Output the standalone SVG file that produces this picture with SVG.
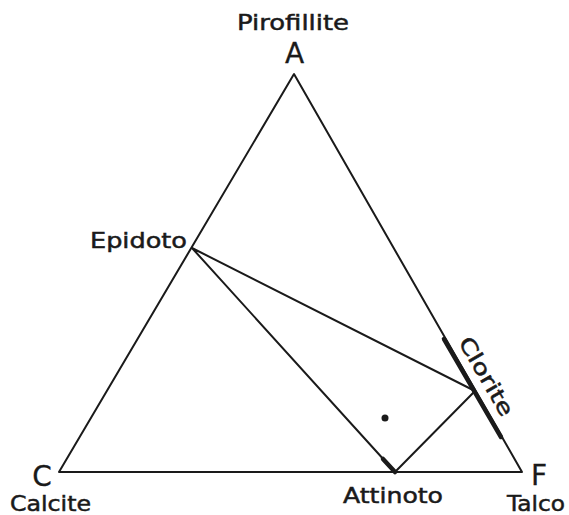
<svg xmlns="http://www.w3.org/2000/svg" width="569" height="515" viewBox="0 0 569 515">
<style>
.t{font-family:"DejaVu Sans","Liberation Sans",sans-serif;fill:#1a1a1a;font-size:21px;stroke:#1a1a1a;stroke-width:0.5}
.b{font-family:"DejaVu Sans","Liberation Sans",sans-serif;fill:#1a1a1a;font-size:28px;text-anchor:middle;stroke:#1a1a1a;stroke-width:0.3}
.l{stroke:#1a1a1a;stroke-width:2;fill:none;stroke-linecap:round;stroke-linejoin:round}
.k{stroke:#1a1a1a;stroke-width:4.5;fill:none;stroke-linecap:round}
</style>
<rect width="569" height="515" fill="#fff"/>
<g id="connectors">
<polygon class="l" points="294,74 59,472 522,472"/>
<polyline class="l" points="192,248 475,391 395,472 192,248"/>
<line class="k" x1="444" y1="339" x2="501" y2="437"/>
<line class="k" x1="383" y1="459" x2="395" y2="472"/>
</g>
<g id="node-A"><text class="t" x="237" y="30" textLength="112" lengthAdjust="spacingAndGlyphs">Pirofillite</text><text class="b" x="294.5" y="63">A</text></g>
<g id="node-C"><text class="b" x="42" y="486">C</text><text class="t" x="10" y="511" font-size="20" textLength="81" lengthAdjust="spacingAndGlyphs">Calcite</text></g>
<g id="node-F"><text class="b" x="539" y="485">F</text><text class="t" x="507" y="511" font-size="20" textLength="58" lengthAdjust="spacingAndGlyphs">Talco</text></g>
<g id="node-epidoto"><text class="t" x="90" y="248" font-size="22" textLength="97" lengthAdjust="spacingAndGlyphs">Epidoto</text></g>
<g id="node-attinoto"><text class="t" x="343" y="503" font-size="22" textLength="100" lengthAdjust="spacingAndGlyphs">Attinoto</text></g>
<g id="node-clorite"><text class="t" transform="translate(480,380) rotate(60)" x="-44" y="0" textLength="88" lengthAdjust="spacingAndGlyphs">Clorite</text></g>
<g id="node-dot"><circle cx="385" cy="418" r="3.5" fill="#1a1a1a"/></g>
</svg>
